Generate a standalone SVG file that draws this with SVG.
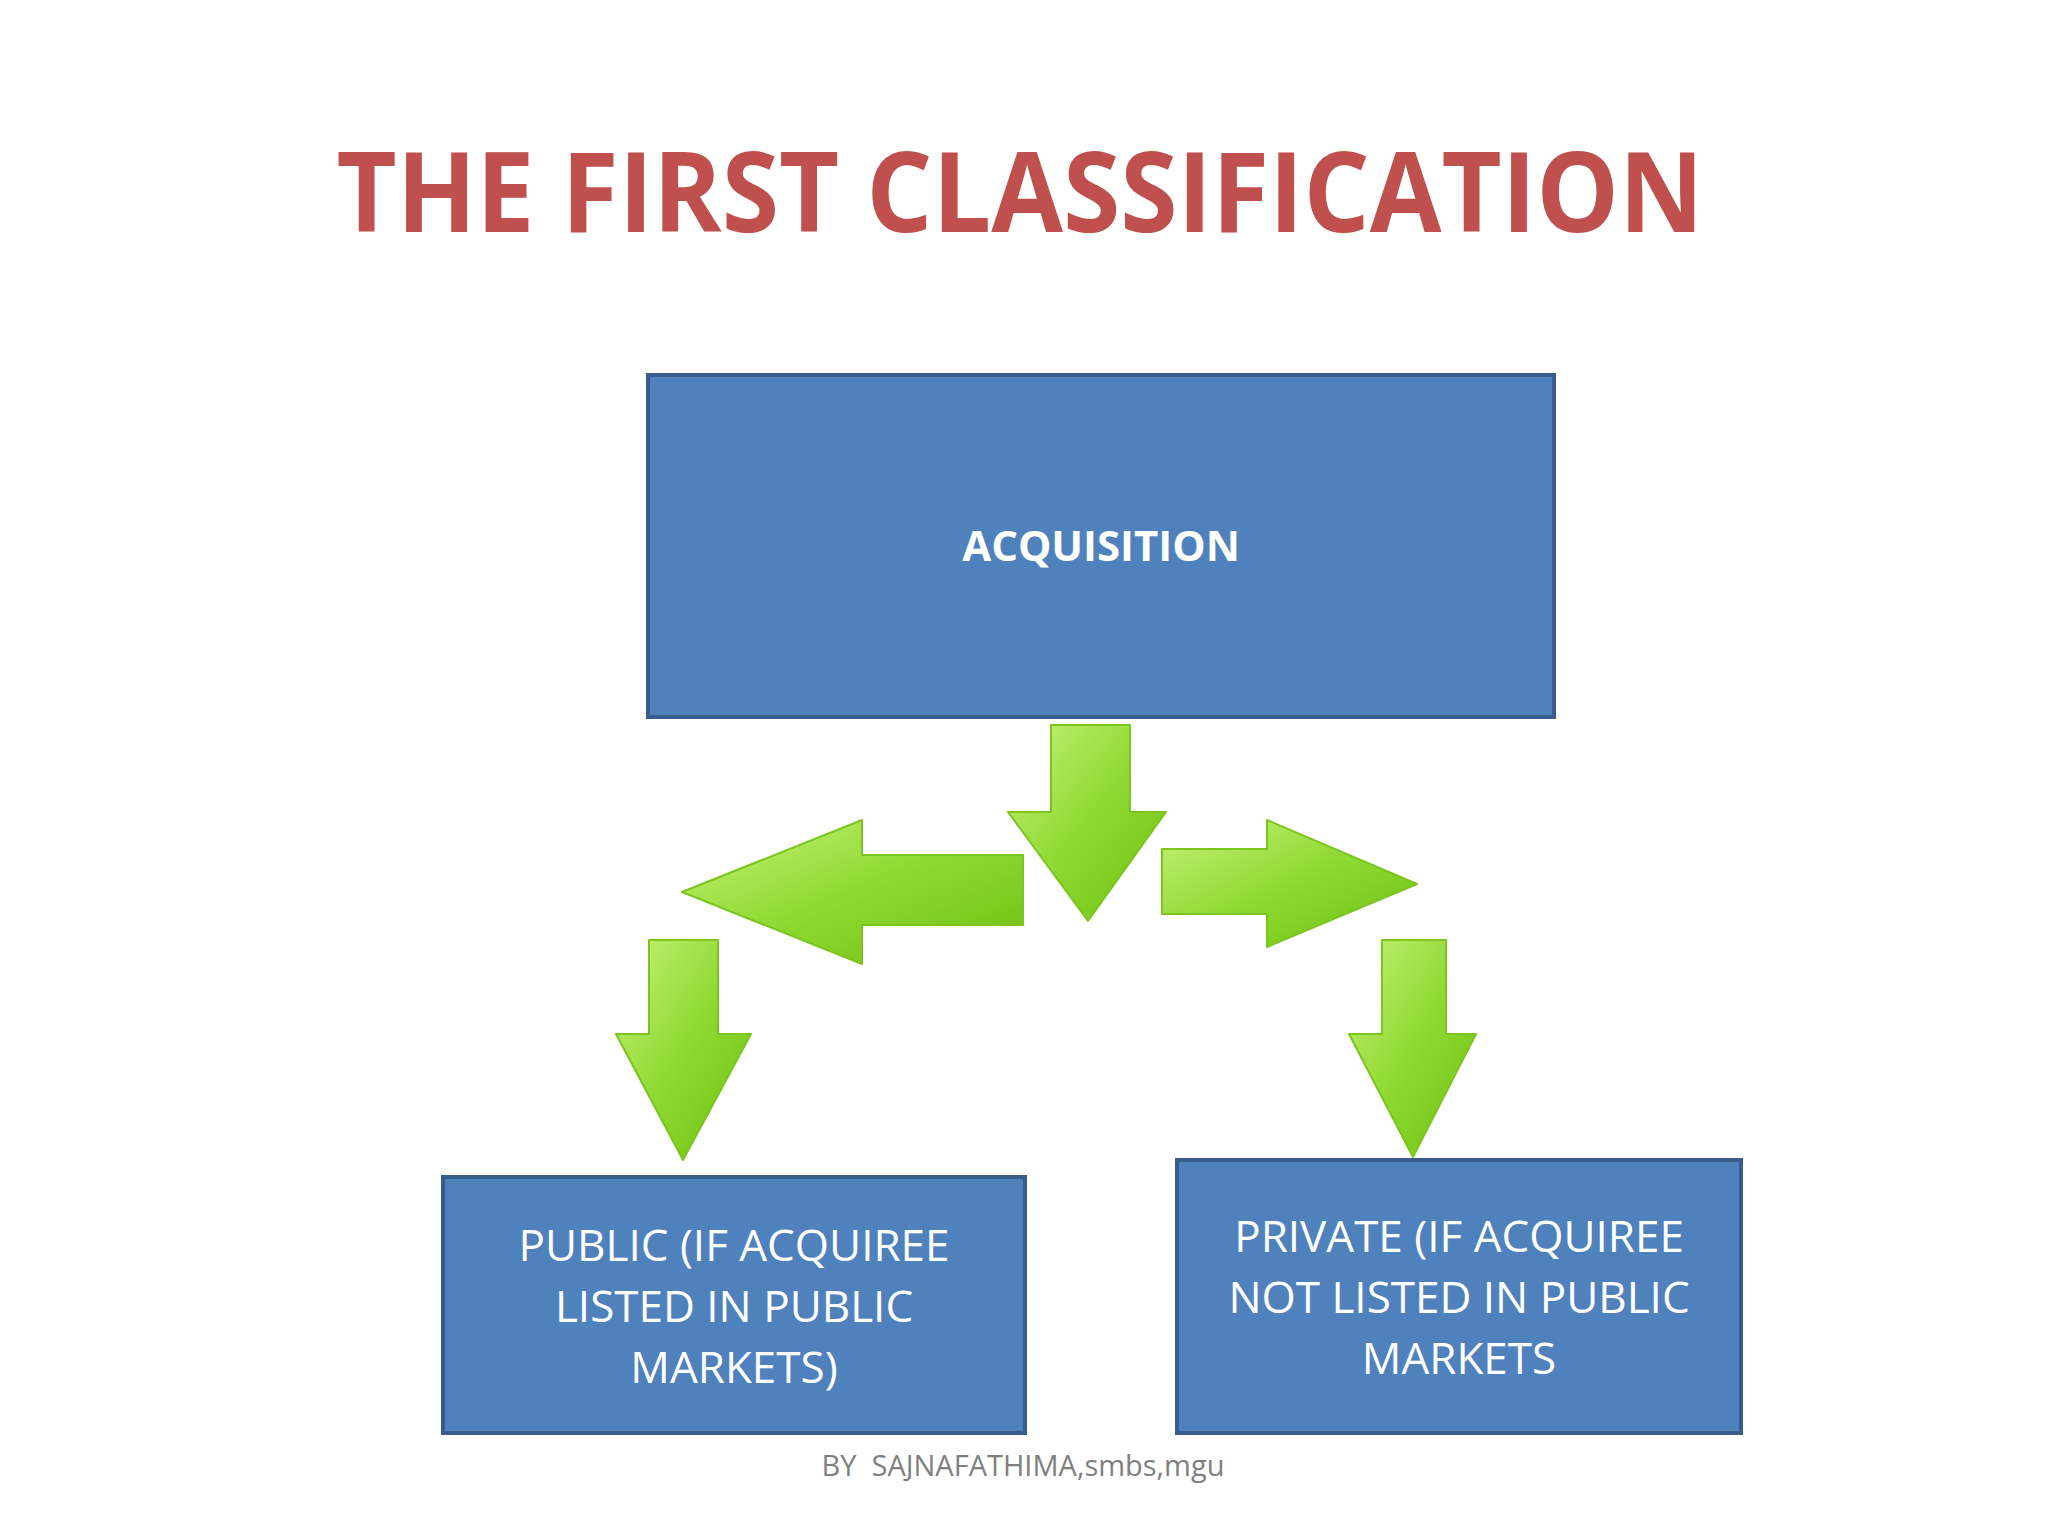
<svg xmlns="http://www.w3.org/2000/svg" width="2048" height="1536" viewBox="0 0 2048 1536">
<style>
.box{fill:#4f81bd;stroke:#385d8a;stroke-width:4}
.t{font-family:"Open Sans","Liberation Sans",sans-serif;fill:#fff;text-anchor:middle}
.arr{fill:url(#g);stroke:#7cc520;stroke-width:2;stroke-linejoin:round}
</style>
<defs>
<linearGradient id="g" x1="0" y1="0" x2="1" y2="1">
<stop offset="0" stop-color="#c8f27a"/><stop offset="0.5" stop-color="#8fd932"/><stop offset="1" stop-color="#6cc010"/>
</linearGradient>
</defs>
<rect width="2048" height="1536" fill="#fff"/>
<text x="1020" y="232" font-family="Open Sans,Liberation Sans,sans-serif" font-weight="bold" font-size="112" fill="#c0504d" text-anchor="middle" textLength="1367" lengthAdjust="spacingAndGlyphs">THE FIRST CLASSIFICATION</text>
<g id="acquisition"><rect class="box" x="648" y="375" width="906" height="342"/>
<text class="t" x="1101" y="561" font-size="42" font-weight="bold">ACQUISITION</text></g>
<g id="public"><rect class="box" x="443" y="1177" width="582" height="256"/>
<text class="t" font-size="44"><tspan x="734" y="1261">PUBLIC (IF ACQUIREE</tspan><tspan x="734" y="1322">LISTED IN PUBLIC</tspan><tspan x="734" y="1383">MARKETS)</tspan></text></g>
<g id="private"><rect class="box" x="1177" y="1160" width="564" height="273"/>
<text class="t" font-size="44"><tspan x="1459" y="1252">PRIVATE (IF ACQUIREE</tspan><tspan x="1459" y="1313">NOT LISTED IN PUBLIC</tspan><tspan x="1459" y="1374">MARKETS</tspan></text></g>
<g id="connectors">
<path class="arr" d="M1051,725 H1130 V812 H1166 L1088,921 L1008,812 H1051 Z"/>
<path class="arr" d="M1023,855 V925 H862 V964 L682,892 L862,820 V855 Z"/>
<path class="arr" d="M1162,849 H1267 V820 L1417,884 L1267,947 V914 H1162 Z"/>
<path class="arr" d="M649,940 H718 V1034 H751 L683,1160 L616,1034 H649 Z"/>
<path class="arr" d="M1382,940 H1446 V1034 H1476 L1413,1157 L1349,1034 H1382 Z"/>
</g>
<text x="1023" y="1476" font-family="Open Sans,Liberation Sans,sans-serif" font-size="29" fill="#7f7f7f" text-anchor="middle" xml:space="preserve">BY  SAJNAFATHIMA,smbs,mgu</text>
</svg>
